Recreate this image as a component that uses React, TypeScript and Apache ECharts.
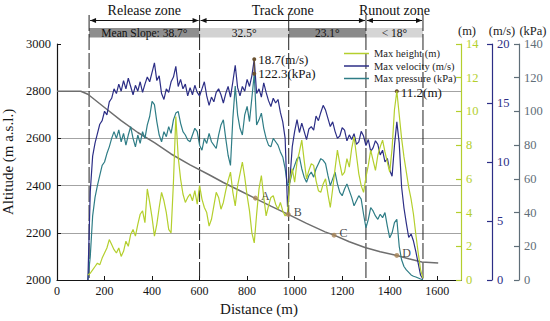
import React, { useEffect, useRef } from "react";
import * as echarts from "echarts";

// ---------- data ----------
const START_DIST = 130; // m, first sample of the simulated profiles
const STEP_DIST = 10; // m between samples

const VELOCITY = [
  0, 7.5, 10.5, 11.6, 12.4, 13.2, 13.5, 14.3, 14.0, 15.1,
  15.4, 16.2, 15.8, 16.6, 16.0, 16.9, 16.2, 17.1, 16.4, 15.7,
  16.5, 16.0, 16.8, 15.9, 16.6, 17.2, 16.8, 17.6, 18.4, 16.9,
  17.3, 15.8, 15.3, 16.2, 15.9, 16.8, 17.2, 18.1, 16.4, 17.0,
  16.2, 16.6, 15.6, 16.3, 15.7, 16.5, 15.9, 15.6, 16.2, 16.8,
  15.6, 14.8, 15.5, 15.1, 15.9, 16.2, 15.7, 15.0, 15.8, 16.4,
  15.5, 16.8, 18.2, 16.3, 15.6, 16.4, 16.0, 17.0, 16.4, 17.3,
  18.7, 15.8, 16.2, 15.5, 16.7, 15.9, 15.2, 14.7, 15.4, 15.0,
  15.3, 14.2, 13.4, 12.0, 6.2, 8.5, 11.3, 12.6, 13.6, 12.5,
  13.3, 12.6, 11.9, 12.8, 13.0, 12.7, 13.9, 13.5, 14.2, 14.8,
  14.4, 13.7, 13.0, 13.4, 12.6, 12.0, 12.2, 12.9, 12.7, 11.8,
  12.3, 11.9, 12.4, 11.5, 11.7, 12.6, 12.2, 11.4, 11.9, 10.9,
  11.2, 11.8, 11.5, 10.6, 11.0, 10.0, 10.3, 9.3, 8.8, 11.4,
  13.4, 11.6, 7.9, 6.1, 4.8, 3.6, 3.9, 3.3, 2.4, 1.4,
  0.4, 0.1,
];

const PRESSURE = [
  0, 14, 38, 49, 56, 62, 68, 70, 75, 79,
  84, 88, 84, 89, 82, 87, 80, 86, 91, 84,
  79, 86, 81, 88, 84, 92, 97, 106, 104, 94,
  86, 82, 88, 85, 91, 87, 95, 99, 100, 93,
  88, 86, 83, 82, 86, 90, 88, 80, 77, 84,
  81, 87, 82, 80, 78, 86, 92, 95, 84, 74,
  68, 96, 115, 98, 90, 86, 98, 103, 94, 108,
  122.3, 92, 95, 99, 90, 84, 80, 79, 84, 82,
  80, 76, 73, 66, 56, 58, 64, 68, 72, 73,
  66, 61, 58, 62, 64, 61, 66, 69, 72, 71,
  69, 62, 56, 60, 64, 57, 52, 50, 54, 57,
  53, 49, 44, 47, 50, 48, 39, 31, 36, 43,
  41, 38, 36, 39, 37, 40, 32, 25, 28, 34,
  36, 20, 12, 8, 6, 4.5, 3, 2.2, 1.8, 1.2,
  0.6, 0.2,
];

const HEIGHT = [
  0.3, 0.4, 0.6, 0.8, 1.0, 0.9, 1.3, 1.6, 1.9, 2.4,
  2.1, 1.8, 1.6, 1.9, 1.4, 1.7, 2.3, 2.0, 2.7, 3.0,
  2.6, 3.3, 3.9, 4.1, 3.4, 5.4, 4.6, 3.7, 2.6, 3.3,
  4.3, 5.2, 4.7, 4.0, 3.0, 2.8, 5.8, 9.7, 7.3, 6.0,
  5.1, 4.6, 4.9, 5.1, 4.7, 5.3, 4.5, 5.6, 4.8, 4.3,
  4.0, 3.2, 3.6, 4.4, 5.2, 4.9, 4.2, 4.6, 5.3, 5.9,
  6.4, 5.2, 4.4, 5.6, 6.3, 7.0, 6.1, 5.0, 4.1, 2.8,
  2.2, 3.9, 5.4, 6.2, 4.9, 3.8, 4.4, 4.9, 5.0, 4.5,
  4.2, 4.6, 4.1, 3.8, 4.0, 5.9, 6.6, 5.8, 7.0, 7.6,
  8.3, 7.1, 6.0, 6.5, 6.9, 6.8, 5.9, 5.3, 5.2, 5.7,
  6.0, 5.1, 4.3, 5.4, 6.6, 7.7, 6.9, 6.2, 6.4, 7.2,
  6.7, 7.8, 8.5, 7.4, 6.3, 5.6, 5.2, 6.1, 6.8, 7.7,
  7.1, 6.5, 7.4, 7.9, 8.3, 7.6, 7.0, 6.4, 7.8, 10.1,
  11.2, 9.8, 8.4, 7.3, 6.4, 5.5, 4.8, 3.9, 2.7, 1.6,
  0.6, 0.1,
];

const TERRAIN_DIST = [0, 100, 130, 200, 270, 340, 410, 480, 560, 640, 700, 770, 840, 900, 973, 1050, 1128, 1166, 1230, 1296, 1360, 1430, 1480, 1535, 1604];
const TERRAIN_ALT = [2800, 2800, 2787, 2731, 2675, 2625, 2582, 2534, 2488, 2446, 2413, 2378, 2343, 2313, 2278, 2240, 2204, 2190, 2162, 2138, 2120, 2104, 2090, 2076, 2072];

const POINT_NAMES = ["A", "B", "C", "D"];
const POINT_DIST = [835, 973, 1166, 1430];
const POINT_ALT = [2347, 2278, 2190, 2104];

const ZONE_BOUNDS = [135, 600, 975, 1300, 1540];
const ZONE_NAMES = ["Release zone", "Track zone", "Runout zone"];
const ZONE_FROM = [0, 1, 3];
const ZONE_TO = [1, 3, 4];
const SLOPE_LABELS = ["Mean Slope: 38.7°", "32.5°", "23.1°", "< 18°"];

const PEAK_V_DIST = 830;
const PEAK_V = 18.7;
const PEAK_P_DIST = 830;
const PEAK_P = 122.3;
const PEAK_H_DIST = 1430;
const PEAK_H = 11.2;

const X_TICKS = { min: 0, max: 1700, interval: 200 };
const ALT_TICKS = { min: 2000, max: 3000, interval: 200 };
const H_TICKS = { min: 0, max: 14, interval: 2 };
const V_TICKS = { min: 0, max: 20, interval: 5 };
const P_TICKS = { min: 0, max: 140, interval: 20 };

// ---------- style ----------
const FONT = '"Liberation Serif", "Times New Roman", serif';
const C_H = "#b4cf2d";
const C_V = "#2c2e86";
const C_P = "#2f7d86";
const C_PAXIS = "#5f6e78";
const C_T = "#6e6e6e";
const C_PT = "#a88458";
const C_INK = "#151515";

const plain = (v: number) => String(v);
const toPairs = (vals: number[]) => vals.map((v, i) => [START_DIST + i * STEP_DIST, v]);

export default function App() {
  const ref = useRef<HTMLDivElement>(null);

  useEffect(() => {
    if (!ref.current) return;
    const chart = echarts.init(ref.current, undefined, { renderer: "svg" });

    const rightAxis = (ticks: any, name: string, color: string, offset: number, padL: number) => ({
      type: "value",
      position: "right",
      offset,
      ...ticks,
      name,
      nameLocation: "end",
      nameGap: 5,
      nameTextStyle: { color: "#222", fontSize: 12.5, fontFamily: FONT, align: "center", padding: [0, 0, 0, padL] },
      axisLine: { show: true, lineStyle: { color, width: 1.2 } },
      axisTick: { show: true, inside: true, length: 5, lineStyle: { color, width: 1.2 } },
      axisLabel: { color, fontSize: 12.5, fontFamily: FONT, margin: 5, formatter: plain },
      splitLine: { show: false },
    });

    const option: any = {
      animation: false,
      textStyle: { fontFamily: FONT },
      grid: { left: 57, top: 44, right: 89, bottom: 41, show: false, containLabel: false, outerBoundsMode: "none" },
      legend: {
        orient: "vertical",
        left: 339,
        top: 43,
        itemWidth: 25,
        itemHeight: 1.5,
        itemGap: 1.5,
        icon: "rect",
        textStyle: { fontFamily: FONT, fontSize: 10.5, color: "#222" },
        data: ["Max height (m)", "Max velocity (m/s)", "Max pressure (kPa)"],
      },
      xAxis: {
        type: "value",
        ...X_TICKS,
        name: "Distance (m)",
        nameLocation: "middle",
        nameGap: 20,
        nameTextStyle: { fontSize: 15, color: C_INK, fontFamily: FONT },
        axisLine: { lineStyle: { color: C_INK, width: 1.2 } },
        axisTick: { inside: true, length: 4, lineStyle: { color: C_INK } },
        axisLabel: { fontSize: 12, color: C_INK, margin: 5, showMaxLabel: false, fontFamily: FONT, formatter: plain },
        splitLine: { show: false },
      },
      yAxis: [
        {
          type: "value",
          position: "left",
          ...ALT_TICKS,
          name: "Altitude (m a.s.l.)",
          nameLocation: "middle",
          nameGap: 38,
          nameTextStyle: { fontSize: 15, color: C_INK, fontFamily: FONT },
          axisLine: { show: true, lineStyle: { color: C_INK, width: 1.2 } },
          axisTick: { show: true, inside: true, length: 4, lineStyle: { color: C_INK } },
          axisLabel: { fontSize: 12.5, color: C_INK, margin: 6, fontFamily: FONT, formatter: plain },
          splitLine: { show: true, showMaxLine: false, showMinLine: false, lineStyle: { color: "#a3a3a3", width: 1 } },
        },
        rightAxis(H_TICKS, "(m)", C_H, 0, 12),
        rightAxis(V_TICKS, "(m/s)", C_V, 31, 20),
        rightAxis(P_TICKS, "(kPa)", C_PAXIS, 58, 28),
      ],
      series: [
        {
          name: "Terrain",
          type: "line",
          xAxisIndex: 0,
          yAxisIndex: 0,
          data: TERRAIN_DIST.map((d, i) => [d, TERRAIN_ALT[i]]),
          showSymbol: false,
          lineStyle: { color: C_T, width: 1.5 },
          z: 2,
        },
        {
          name: "Max pressure (kPa)",
          type: "line",
          yAxisIndex: 3,
          data: toPairs(PRESSURE),
          showSymbol: false,
          color: C_P,
          lineStyle: { color: C_P, width: 1.2 },
          z: 3,
          markPoint: {
            symbol: "circle",
            symbolSize: 4,
            itemStyle: { color: "#6b5230" },
            label: { show: true, position: "right", distance: 2, fontSize: 13, color: C_INK, fontFamily: FONT, formatter: `${PEAK_P}(kPa)` },
            data: [{ coord: [PEAK_P_DIST, PEAK_P] }],
          },
        },
        {
          name: "Max velocity (m/s)",
          type: "line",
          yAxisIndex: 2,
          data: toPairs(VELOCITY),
          showSymbol: false,
          color: C_V,
          lineStyle: { color: C_V, width: 1.2 },
          z: 4,
          markPoint: {
            symbol: "circle",
            symbolSize: 4,
            itemStyle: { color: "#6b5230" },
            label: { show: true, position: "right", distance: 2, fontSize: 13, color: C_INK, fontFamily: FONT, formatter: `${PEAK_V}(m/s)` },
            data: [{ coord: [PEAK_V_DIST, PEAK_V] }],
          },
        },
        {
          name: "Max height (m)",
          type: "line",
          yAxisIndex: 1,
          data: toPairs(HEIGHT),
          showSymbol: false,
          color: C_H,
          lineStyle: { color: C_H, width: 1.2 },
          z: 5,
          markPoint: {
            symbol: "circle",
            symbolSize: 4,
            itemStyle: { color: "#6b5230" },
            label: { show: true, position: "right", distance: 2, offset: [0, 1], fontSize: 13, color: C_INK, fontFamily: FONT, formatter: `${PEAK_H}(m)` },
            data: [{ coord: [PEAK_H_DIST, PEAK_H] }],
          },
        },
        {
          name: "Points",
          type: "scatter",
          yAxisIndex: 0,
          data: POINT_NAMES.map((n, i) => ({ name: n, value: [POINT_DIST[i], POINT_ALT[i]] })),
          symbolSize: 5,
          itemStyle: { color: C_PT },
          label: { show: true, position: "right", distance: 3, offset: [0, -2], formatter: "{b}", fontSize: 12, color: C_INK, fontFamily: FONT },
          z: 6,
        },
      ],
    };

    chart.setOption(option);

    const px = (d: number) => chart.convertToPixel({ xAxisIndex: 0 }, d) as number;
    const yBottom = chart.convertToPixel({ yAxisIndex: 0 }, ALT_TICKS.min) as number;
    const bx = ZONE_BOUNDS.map(px);
    const arrowY = 20.5;
    const boxTop = 28;
    const boxH = 9.5;
    const graphics: any[] = [];

    bx.forEach((x) => {
      graphics.push({
        type: "line",
        z: 1,
        shape: { x1: x, y1: 15, x2: x, y2: yBottom },
        style: { stroke: "#222", lineWidth: 1, lineDash: [16, 3] },
        silent: true,
      });
    });

    ZONE_NAMES.forEach((name, i) => {
      const x0 = bx[ZONE_FROM[i]];
      const x1 = bx[ZONE_TO[i]];
      graphics.push({
        type: "line",
        shape: { x1: x0 + 1, y1: arrowY, x2: x1 - 1, y2: arrowY },
        style: { stroke: "#111", lineWidth: 1.2 },
        silent: true,
      });
      graphics.push({
        type: "polygon",
        shape: { points: [[x0 + 1, arrowY], [x0 + 7, arrowY - 2.5], [x0 + 7, arrowY + 2.5]] },
        style: { fill: "#111" },
        silent: true,
      });
      graphics.push({
        type: "polygon",
        shape: { points: [[x1 - 1, arrowY], [x1 - 7, arrowY - 2.5], [x1 - 7, arrowY + 2.5]] },
        style: { fill: "#111" },
        silent: true,
      });
      graphics.push({
        type: "text",
        x: (x0 + x1) / 2,
        y: 10,
        style: {
          text: name,
          font: `14px ${FONT}`,
          fill: "#111",
          align: "center",
          verticalAlign: "middle",
          textAlign: "center",
          textVerticalAlign: "middle",
        },
        silent: true,
      });
    });

    const boxFills = ["#8e8e8e", "#d2d2d2", "#8a8a8a", "#d5d5d5"];
    SLOPE_LABELS.forEach((label, i) => {
      const x0 = bx[i];
      const x1 = bx[i + 1];
      graphics.push({
        type: "rect",
        shape: { x: x0, y: boxTop, width: x1 - x0, height: boxH },
        style: { fill: boxFills[i] },
        silent: true,
      });
      graphics.push({
        type: "text",
        x: (x0 + x1) / 2,
        y: boxTop + boxH / 2 + 0.5,
        style: {
          text: label,
          font: `11.5px ${FONT}`,
          fill: "#111",
          align: "center",
          verticalAlign: "middle",
          textAlign: "center",
          textVerticalAlign: "middle",
        },
        silent: true,
      });
    });

    // connector between the velocity and pressure peak markers
    const cx = px(PEAK_V_DIST);
    const cy1 = chart.convertToPixel({ yAxisIndex: 2 }, PEAK_V) as number;
    const cy2 = chart.convertToPixel({ yAxisIndex: 3 }, PEAK_P) as number;
    graphics.push({
      type: "line",
      z: 10,
      shape: { x1: cx, y1: cy1, x2: cx, y2: cy2 },
      style: { stroke: "#6b5230", lineWidth: 1.2 },
      silent: true,
    });

    chart.setOption({ graphic: graphics });

    return () => chart.dispose();
  }, []);

  return (
    <div
      ref={ref}
      style={{ position: "fixed", left: 0, top: 0, width: 550, height: 321, background: "#fff" }}
    />
  );
}
